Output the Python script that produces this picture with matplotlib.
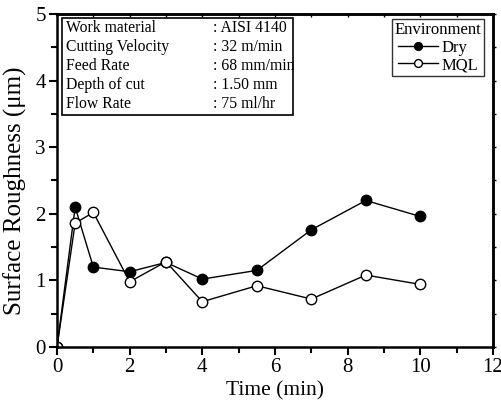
import matplotlib.pyplot as plt
from matplotlib.patches import Rectangle
from matplotlib.ticker import MultipleLocator

plt.rcParams['font.family'] = ['Liberation Serif', 'DejaVu Serif']

time = [0, 0.5, 1, 2, 3, 4, 5.5, 7, 8.5, 10]
dry = [0, 2.1, 1.2, 1.13, 1.27, 1.02, 1.15, 1.76, 2.2, 1.96]
mql = [0, 1.86, 2.02, 0.98, 1.28, 0.68, 0.92, 0.72, 1.08, 0.94]

info_keys = ['Work material', 'Cutting Velocity', 'Feed Rate', 'Depth of cut', 'Flow Rate']
info_vals = [': AISI 4140', ': 32 m/min', ': 68 mm/min', ': 1.50 mm', ': 75 ml/hr']

W, H = 502, 412
fig = plt.figure(figsize=(W / 100, H / 100), dpi=100)
ax = fig.add_axes([57/W, 1 - 347/H, 436/W, 333/H])

ax.plot(time, dry, '-', color='black', lw=1, marker='o', ms=7.5,
        mfc='black', mec='black', label='Dry')
ax.plot(time, mql, '-', color='black', lw=1, marker='o', ms=7.5,
        mfc='white', mec='black', label='MQL')

ax.set_xlim(0, 12)
ax.set_ylim(0, 5)
ax.xaxis.set_major_locator(MultipleLocator(2))
ax.xaxis.set_minor_locator(MultipleLocator(1))
ax.yaxis.set_major_locator(MultipleLocator(1))
ax.yaxis.set_minor_locator(MultipleLocator(0.5))
ax.tick_params(which='both', direction='out', labelsize=15, width=1.5)
ax.tick_params(which='major', length=6)
ax.tick_params(which='minor', length=4)
ax.tick_params(axis='x', pad=2)
ax.tick_params(axis='y', pad=2)
for s in ax.spines.values():
    s.set_linewidth(1.8)

# small ticks on top (in) and right (out)
top = ax.secondary_xaxis('top')
top.xaxis.set_major_locator(MultipleLocator(2))
top.xaxis.set_minor_locator(MultipleLocator(1))
top.tick_params(which='both', direction='in', length=2.5, width=1, labeltop=False)
right = ax.secondary_yaxis('right')
right.yaxis.set_major_locator(MultipleLocator(1))
right.yaxis.set_minor_locator(MultipleLocator(0.5))
right.tick_params(which='both', direction='out', length=2.5, width=1, labelright=False)
right.spines['right'].set_linewidth(1.8)
top.spines['top'].set_linewidth(1.8)

ax.set_xlabel('Time (min)', fontsize=15.5, labelpad=3)
ax.set_ylabel('Surface Roughness (μm)', fontsize=18)
ax.yaxis.set_label_coords(-0.069, 0.47)

# parameter box
ax.add_patch(Rectangle((5/436, 1 - 101/333), 231/436, 97/333, transform=ax.transAxes,
                       fill=False, ec='black', lw=1.2, zorder=5))
for i, (k, v) in enumerate(zip(info_keys, info_vals)):
    y = 1 - (14 + i * 19) / 333
    ax.text(9/436, y, k, transform=ax.transAxes, fontsize=11.3, va='center')
    ax.text(156/436, y, v, transform=ax.transAxes, fontsize=11.3, va='center')

leg = ax.legend(title='Environment', loc='upper right', fontsize=12, title_fontsize=12,
                frameon=True, fancybox=False, edgecolor='black', handlelength=2.4,
                handletextpad=0.2, borderpad=0.15, labelspacing=0.1, markerscale=0.75,
                bbox_to_anchor=(1 - 1/436, 1 + 3/333))
leg.get_frame().set_linewidth(1.0)

fig.savefig('out.png', dpi=100)
